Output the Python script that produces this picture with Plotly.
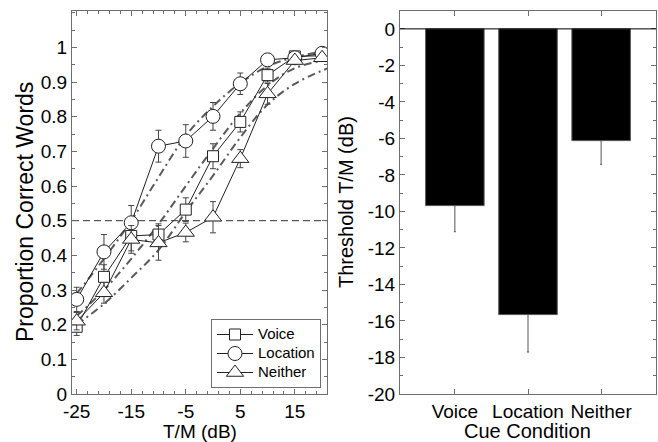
import plotly.graph_objects as go

W, H = 658, 442

# ---------------- data (left panel) ----------------
tm_db = [-25, -20, -15, -10, -5, 0, 5, 10, 15, 20]
voice = [0.194, 0.338, 0.456, 0.460, 0.532, 0.686, 0.785, 0.920, 0.974, 0.976]
voice_err = [0.025, 0.035, 0.043, 0.031, 0.034, 0.036, 0.029, 0.02, 0.01, 0.01]
location = [0.273, 0.410, 0.494, 0.715, 0.730, 0.801, 0.895, 0.964, 0.970, 0.983]
location_err = [0.035, 0.05, 0.05, 0.046, 0.047, 0.04, 0.031, 0.01, 0.01, 0.01]
neither = [0.210, 0.292, 0.446, 0.436, 0.466, 0.51, 0.679, 0.866, 0.962, 0.970]
neither_err = [0.025, 0.03, 0.04, 0.05, 0.027, 0.045, 0.026, 0.03, 0.01, 0.01]

# fitted psychometric curves
fit_x = [-25, -20, -15, -10, -5, 0, 5, 10, 15, 20.9]
fit_location = [0.29, 0.39, 0.50, 0.625, 0.745, 0.83, 0.897, 0.945, 0.972, 0.99]
fit_voice = [0.225, 0.30, 0.39, 0.49, 0.60, 0.708, 0.81, 0.89, 0.94, 0.964]
fit_neither = [0.20, 0.26, 0.335, 0.415, 0.525, 0.63, 0.74, 0.835, 0.895, 0.939]
criterion = 0.5

x_ticks = [-25, -15, -5, 5, 15]
x_ticktext = ["-25", "-15", "-5", "5", "15"]
y_ticks = [0, 0.1, 0.2, 0.3, 0.4, 0.5, 0.6, 0.7, 0.8, 0.9, 1]
y_ticktext = ["0", "0.1", "0.2", "0.3", "0.4", "0.5", "0.6", "0.7", "0.8", "0.9", "1"]

# ---------------- data (right panel) ----------------
cue_conditions = ["Voice", "Location", "Neither"]
threshold = [-9.68, -15.65, -6.12]
threshold_err = [1.43, 2.05, 1.30]
thr_ticks = [0, -2, -4, -6, -8, -10, -12, -14, -16, -18, -20]
thr_ticktext = ["0", "-2", "-4", "-6", "-8", "-10", "-12", "-14", "-16", "-18", "-20"]

FONT = "Arial, Liberation Sans, sans-serif"
FS = 19
AX = "#6e6e6e"

def px(x):
    return x / W

def py(y):
    return 1 - y / H

fig = go.Figure()

fit_style = dict(color="#5a5a5a", width=2, dash="8px,4px,2px,4px")
for fy in (fit_location, fit_voice, fit_neither):
    fig.add_trace(go.Scatter(x=fit_x, y=fy, mode="lines", line=dict(shape="spline", **fit_style),
                             showlegend=False, hoverinfo="skip", xaxis="x", yaxis="y"))

series = [
    ("Voice", voice, voice_err, "square", 11),
    ("Location", location, location_err, "circle", 14),
    ("Neither", neither, neither_err, "triangle-up", 15),
]
for name, ys, es, sym, sz in series:
    fig.add_trace(go.Scatter(
        x=tm_db, y=ys, name="<span style='font-size:15px'>%s</span>" % name,
        mode="lines+markers",
        line=dict(color="#222222", width=1),
        marker=dict(symbol=sym, size=sz, color="white", line=dict(color="#222222", width=1)),
        error_y=dict(type="data", array=es, color="#444444", thickness=1, width=3),
        xaxis="x", yaxis="y"))

fig.add_trace(go.Bar(
    x=cue_conditions, y=threshold, width=0.8,
    marker=dict(color="black", line=dict(color="#555555", width=1)),
    error_y=dict(type="data", symmetric=False, array=[0, 0, 0], arrayminus=threshold_err,
                 color="#555555", thickness=1, width=1),
    showlegend=False, xaxis="x2", yaxis="y2"))

ydom = [1 - 394 / H, 1 - 11 / H]
common = dict(showline=True, linecolor=AX, linewidth=1, mirror="allticks", ticks="inside",
              tickcolor=AX, ticklen=5, showgrid=False, zeroline=False,
              tickfont=dict(family=FONT, size=FS, color="black"), automargin=False)

fig.update_layout(
    width=W, height=H, margin=dict(l=0, r=0, t=0, b=0),
    paper_bgcolor="white", plot_bgcolor="white",
    font=dict(family=FONT, size=FS, color="black"),
    xaxis=dict(domain=[72 / W, 327 / W], range=[-25.86, 20.9], tickvals=x_ticks, ticktext=x_ticktext,
               minor=dict(dtick=2, tick0=-25, ticks="inside", ticklen=3, tickcolor=AX),
               anchor="y", **common),
    yaxis=dict(domain=ydom, range=[0, 1.105], tickvals=y_ticks, ticktext=y_ticktext,
               minor=dict(dtick=0.05, tick0=0, ticks="inside", ticklen=3, tickcolor=AX),
               anchor="x", **common),
    xaxis2=dict(domain=[400 / W, 656 / W], range=[-0.75, 2.75], anchor="y2", **common),
    yaxis2=dict(domain=ydom, range=[-20, 0.98], tickvals=thr_ticks, ticktext=thr_ticktext,
                minor=dict(dtick=1, tick0=0, ticks="inside", ticklen=3, tickcolor=AX),
                anchor="x2", **common),
    legend=dict(x=321 / W, y=py(388), xanchor="right", yanchor="bottom",
                bgcolor="white", bordercolor=AX, borderwidth=1,
                font=dict(family=FONT, size=12, color="black"),
                tracegroupgap=0, itemwidth=36),
    showlegend=True,
    shapes=[
        dict(type="line", xref="x domain", yref="y", x0=0, x1=1, y0=criterion, y1=criterion,
             line=dict(color="#333333", width=1, dash="7px,4px"), layer="below"),
        dict(type="line", xref="x2 domain", yref="y2", x0=0, x1=1, y0=0, y1=0,
             line=dict(color="black", width=1)),
    ],
    annotations=[
        dict(text="T/M (dB)", x=px(199.5), y=py(431), xref="paper", yref="paper",
             xanchor="center", yanchor="middle",
             showarrow=False, font=dict(family=FONT, size=19)),
        dict(text="Proportion Correct Words", x=px(25), y=py(212), xref="paper", yref="paper",
             xanchor="center", yanchor="middle",
             showarrow=False, textangle=-90, font=dict(family=FONT, size=23)),
        dict(text="Cue Condition", x=px(527), y=py(431), xref="paper", yref="paper",
             xanchor="center", yanchor="middle",
             showarrow=False, font=dict(family=FONT, size=20)),
        dict(text="Threshold T/M (dB)", x=px(346), y=py(202), xref="paper", yref="paper",
             xanchor="center", yanchor="middle",
             showarrow=False, textangle=-90, font=dict(family=FONT, size=20)),
    ],
)

fig.write_html("out.html", config={"displayModeBar": False},
               post_script="document.body.style.margin='0';document.body.style.padding='0';document.body.style.overflow='hidden';")
